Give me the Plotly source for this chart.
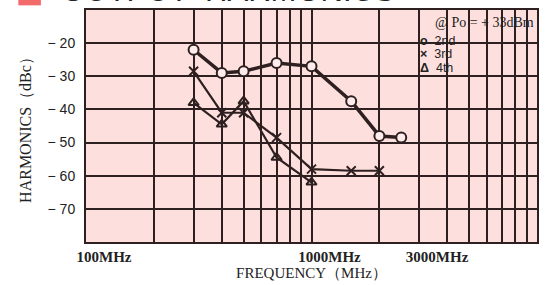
import plotly.graph_objects as go

# ---- data ----
freq_2nd = [300, 400, 500, 700, 1000, 1500, 2000, 2500]
harm_2nd = [-22, -29, -28.5, -26, -27, -37.5, -48, -48.5]

freq_3rd = [300, 400, 500, 700, 1000, 1500, 2000]
harm_3rd = [-28.5, -41, -41, -48.5, -58, -58.5, -58.5]

freq_4th = [300, 400, 500, 700, 1000]
harm_4th = [-38, -44.5, -37.5, -54.5, -62]

x_grid = [100, 200, 300, 400, 500, 600, 700, 800, 900, 1000,
          2000, 3000, 4000, 5000, 6000, 7000, 8000, 9000, 10000]
x_labels = ["100MHz", "", "", "", "", "", "", "", "", "1000MHz",
            "", "3000MHz", "", "", "", "", "", "", ""]
y_ticks = [-20, -30, -40, -50, -60, -70]
y_labels = ["− 20", "− 30", "− 40", "− 50", "− 60", "− 70"]

series_names = ["2nd", "3rd", "4th"]
legend_glyphs = ["o", "×", "Δ"]

INK = "#2e2020"
BG = "#fde0dd"

fig = go.Figure()
fig.add_trace(go.Scatter(
    x=freq_2nd, y=harm_2nd, name=series_names[0], mode="lines+markers",
    line=dict(color=INK, width=3.5),
    marker=dict(symbol="circle", size=10, color="#fdeceb",
                line=dict(color=INK, width=2))))
fig.add_trace(go.Scatter(
    x=freq_3rd, y=harm_3rd, name=series_names[1], mode="lines+markers",
    line=dict(color=INK, width=2.2),
    marker=dict(symbol="x-thin-open", size=9, color=INK,
                line=dict(color=INK, width=2))))
fig.add_trace(go.Scatter(
    x=freq_4th, y=harm_4th, name=series_names[2], mode="lines+markers",
    line=dict(color=INK, width=2.2),
    marker=dict(symbol="triangle-up-open", size=9, color=INK,
                line=dict(color=INK, width=2))))

fig.update_layout(
    width=547, height=285,
    margin=dict(l=86, r=8, t=9, b=38),
    paper_bgcolor="white", plot_bgcolor=BG,
    showlegend=False,
    font=dict(family="Liberation Serif", color="#222"),
)
fig.update_xaxes(
    type="log", range=[2, 4],
    tickvals=x_grid, ticktext=[f"<b>{t}</b>" if t else "" for t in x_labels],
    ticklabelshift=18,
    tickfont=dict(family="Liberation Serif", size=15, color="#222"),
    showgrid=True, gridcolor=INK, gridwidth=1.6,
    showline=True, linecolor=INK, linewidth=2, mirror=True,
    ticks="", zeroline=False,
    title=dict(text="FREQUENCY（MHz）", standoff=1,
               font=dict(family="Liberation Serif", size=15, color="#222")),
)
fig.update_yaxes(
    range=[-80, -10],
    tickvals=y_ticks, ticktext=y_labels, ticklabelstandoff=6,
    tickfont=dict(family="Liberation Sans", size=14, color="#222"),
    showgrid=True, gridcolor=INK, gridwidth=1.6,
    showline=True, linecolor=INK, linewidth=2, mirror=True,
    ticks="", zeroline=False,
    title=dict(text="HARMONICS（dBc）", standoff=12,
               font=dict(family="Liberation Serif", size=16, color="#222")),
)
fig.add_annotation(
    text="@ Po = + 33dBm", xref="paper", yref="paper",
    x=0.998, y=0.99, xanchor="right", yanchor="top", showarrow=False,
    height=16,
    font=dict(family="Liberation Serif", size=14, color="#222"))
# legend rows
for i, (g, n) in enumerate(zip(legend_glyphs, series_names)):
    fig.add_annotation(
        text=f"<b>{g}</b>  {n}", xref="paper", yref="paper",
        x=(419 - 86) / 453, y=(247 - (40 + 14 * i)) / 238,
        xanchor="left", yanchor="middle", showarrow=False, height=13,
        font=dict(family="Liberation Sans", size=12.5, color="#222"))
# cropped heading at very top
fig.add_annotation(
    text="OUTPUT  HARMONICS", xref="paper", yref="paper",
    x=-0.06, y=1.0, xanchor="left", yanchor="bottom", showarrow=False,
    font=dict(family="Liberation Sans", size=31, color="#222"))
fig.add_shape(type="rect", xref="paper", yref="paper",
              x0=-0.15, x1=-0.10, y0=1.02, y1=1.06,
              fillcolor="#f26a6a", line=dict(width=0))

fig.write_html("out.html", config={"displayModeBar": False},
               post_script="document.body.style.margin='0';")
